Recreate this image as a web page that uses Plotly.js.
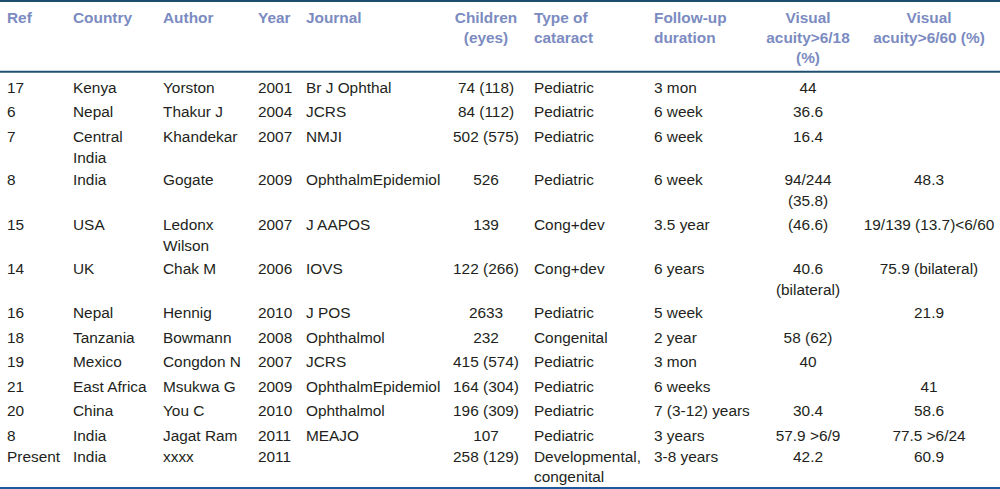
<!DOCTYPE html>
<html>
<head>
<meta charset="utf-8">
<script src="https://cdn.plot.ly/plotly-3.0.1.min.js"></script>
<style>html,body{margin:0;padding:0;background:#fff;}#chart{width:1000px;height:489px;}</style>
</head>
<body>
<div id="chart"></div>
<script>
// ---- table data ----
var headers = ['Ref', 'Country', 'Author', 'Year', 'Journal', 'Children<br>(eyes)', 'Type of<br>cataract', 'Follow-up<br>duration', 'Visual<br>acuity>6/18<br>(%)', 'Visual<br>acuity>6/60 (%)'];
var refs = ['17', '6', '7', '8', '15', '14', '16', '18', '19', '21', '20', '8', 'Present'];
var countries = ['Kenya', 'Nepal', 'Central<br>India', 'India', 'USA', 'UK', 'Nepal', 'Tanzania', 'Mexico', 'East Africa', 'China', 'India', 'India'];
var authors = ['Yorston', 'Thakur J', 'Khandekar', 'Gogate', 'Ledonx<br>Wilson', 'Chak M', 'Hennig', 'Bowmann', 'Congdon N', 'Msukwa G', 'You C', 'Jagat Ram', 'xxxx'];
var years = ['2001', '2004', '2007', '2009', '2007', '2006', '2010', '2008', '2007', '2009', '2010', '2011', '2011'];
var journals = ['Br J Ophthal', 'JCRS', 'NMJI', 'OphthalmEpidemiol', 'J AAPOS', 'IOVS', 'J POS', 'Ophthalmol', 'JCRS', 'OphthalmEpidemiol', 'Ophthalmol', 'MEAJO', ''];
var children = ['74 (118)', '84 (112)', '502 (575)', '526', '139', '122 (266)', '2633', '232', '415 (574)', '164 (304)', '196 (309)', '107', '258 (129)'];
var cataractTypes = ['Pediatric', 'Pediatric', 'Pediatric', 'Pediatric', 'Cong+dev', 'Cong+dev', 'Pediatric', 'Congenital', 'Pediatric', 'Pediatric', 'Pediatric', 'Pediatric', 'Developmental,<br>congenital'];
var followUp = ['3 mon', '6 week', '6 week', '6 week', '3.5 year', '6 years', '5 week', '2 year', '3 mon', '6 weeks', '7 (3-12) years', '3 years', '3-8 years'];
var va618 = ['44', '36.6', '16.4', '94/244<br>(35.8)', '(46.6)', '40.6<br>(bilateral)', '', '58 (62)', '40', '', '30.4', '57.9 &gt;6/9', '42.2'];
var va660 = ['', '', '', '48.3', '19/139 (13.7)&lt;6/60', '75.9 (bilateral)', '21.9', '', '', '41', '58.6', '77.5 &gt;6/24', '60.9'];

// ---- layout constants (positions / styles) ----
var FS = 15.4;
var FONT = 'Liberation Sans, Arial, sans-serif';
var BODY_COLOR = '#231f20';
var HEAD_COLOR = '#7b8bc1';
var colX = [7, 73, 163, 258, 306, 486, 534, 654, 808, 929];
var colAlign = ['left', 'left', 'left', 'left', 'left', 'center', 'left', 'left', 'center', 'center'];
var rowBaselines = [93, 117.5, 142.5, 185.5, 230.5, 274.5, 318.5, 343.5, 367.5, 392.5, 416.5, 441.5, 462];
var headBaseline = 22.5;

var columns = [refs, countries, authors, years, journals, children, cataractTypes, followUp, va618, va660];

var traces = [];
columns.forEach(function (col, ci) {
  var pos = colAlign[ci] === 'center' ? 'bottom center' : 'bottom right';
  traces.push({
    type: 'scatter', mode: 'text',
    x: col.map(function () { return colX[ci]; }),
    y: rowBaselines.map(function (b) { return b - 0.75 * FS; }),
    text: col,
    textposition: pos,
    textfont: { family: FONT, size: FS, color: BODY_COLOR },
    marker: { size: 0 },
    hoverinfo: 'skip', showlegend: false, cliponaxis: false
  });
});
// header row
traces.push({
  type: 'scatter', mode: 'text',
  x: colX,
  y: headers.map(function () { return headBaseline - 0.75 * FS; }),
  text: headers.map(function (h) { return '<b>' + h + '</b>'; }),
  textposition: colAlign.map(function (a, i) { return (a === 'center' || i === 5) ? 'bottom center' : 'bottom right'; }),
  textfont: { family: FONT, size: FS, color: HEAD_COLOR },
  marker: { size: 0 },
  hoverinfo: 'skip', showlegend: false, cliponaxis: false
});

var layout = {
  width: 1000, height: 489,
  margin: { l: 0, r: 0, t: 0, b: 0, pad: 0 },
  paper_bgcolor: '#ffffff', plot_bgcolor: '#ffffff',
  xaxis: { range: [0, 1000], visible: false, fixedrange: true },
  yaxis: { range: [489, 0], visible: false, fixedrange: true },
  shapes: [
    { type: 'line', xref: 'x', yref: 'y', x0: 0, x1: 1000, y0: 0.9, y1: 0.9, line: { color: '#1d4d6e', width: 2 } },
    { type: 'line', xref: 'x', yref: 'y', x0: 0, x1: 1000, y0: 71.7, y1: 71.7, line: { color: '#1e4f72', width: 2 } },
    { type: 'line', xref: 'x', yref: 'y', x0: 0, x1: 1000, y0: 488, y1: 488, line: { color: '#1f5a9c', width: 2 } }
  ],
  showlegend: false
};

Plotly.newPlot('chart', traces, layout, { staticPlot: true, displayModeBar: false });
</script>
</body>
</html>
